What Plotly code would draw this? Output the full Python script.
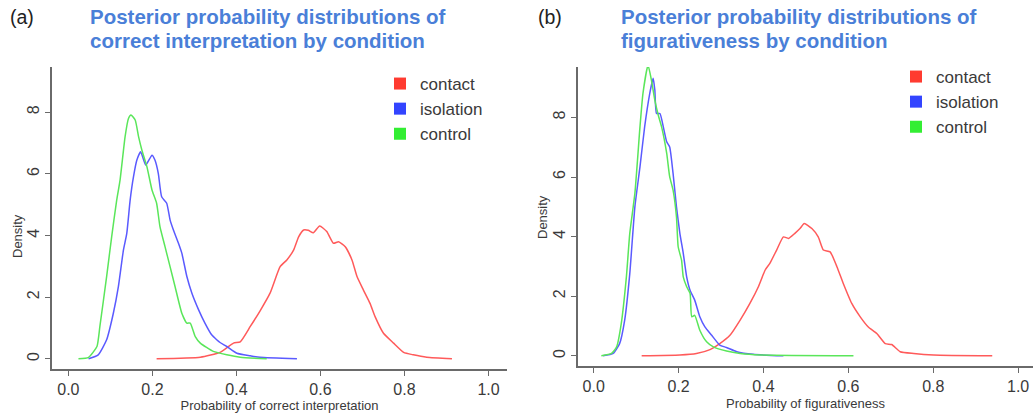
import plotly.graph_objects as go

# ---------------- data ----------------
# Panel (a): probability of correct interpretation
a_control_x = [0.024, 0.048, 0.068, 0.075, 0.091, 0.103, 0.115, 0.123, 0.135, 0.143, 0.149, 0.159, 0.167,
               0.175, 0.187, 0.199, 0.210, 0.218, 0.230, 0.242, 0.254, 0.270, 0.282, 0.290, 0.302, 0.314,
               0.345, 0.377, 0.409, 0.472]
a_control_y = [0.0, 0.05, 0.40, 1.05, 2.67, 3.96, 5.15, 5.80, 7.21, 7.80, 7.91, 7.75, 7.21,
               6.77, 6.23, 5.48, 5.05, 4.29, 3.64, 2.99, 2.34, 1.48, 1.16, 1.16, 0.72, 0.51,
               0.24, 0.13, 0.05, 0.0]

a_isolation_x = [0.048, 0.071, 0.091, 0.107, 0.119, 0.131, 0.139, 0.147, 0.155, 0.163, 0.172, 0.184, 0.199,
                 0.206, 0.214, 0.222, 0.234, 0.242, 0.250, 0.262, 0.270, 0.282, 0.294, 0.310, 0.325, 0.341,
                 0.353, 0.361, 0.377, 0.401, 0.433, 0.456, 0.544]
a_isolation_y = [0.0, 0.13, 0.62, 1.48, 2.34, 3.53, 4.07, 5.15, 5.91, 6.45, 6.72, 6.29, 6.61,
                 6.45, 6.02, 5.26, 5.05, 4.51, 4.18, 3.75, 3.43, 2.67, 2.13, 1.59, 1.16, 0.78,
                 0.62, 0.53, 0.40, 0.18, 0.10, 0.05, 0.0]

a_contact_x = [0.210, 0.314, 0.361, 0.393, 0.409, 0.433, 0.456, 0.480, 0.504, 0.520, 0.536, 0.548, 0.560,
               0.571, 0.583, 0.598, 0.615, 0.631, 0.643, 0.659, 0.675, 0.687, 0.702, 0.718, 0.730, 0.750,
               0.774, 0.798, 0.821, 0.853, 0.913]
a_contact_y = [0.0, 0.05, 0.21, 0.51, 0.55, 1.05, 1.55, 2.13, 2.99, 3.21, 3.53, 3.96, 4.18,
               4.17, 4.09, 4.31, 4.13, 3.75, 3.80, 3.64, 3.21, 2.67, 2.24, 1.80, 1.37, 0.83,
               0.51, 0.21, 0.13, 0.05, 0.0]

# Panel (b): probability of figurativeness
b_control_x = [0.018, 0.042, 0.054, 0.065, 0.077, 0.085, 0.097, 0.109, 0.116, 0.128, 0.136, 0.144, 0.152,
               0.160, 0.172, 0.179, 0.187, 0.195, 0.199, 0.207, 0.211, 0.219, 0.227, 0.231, 0.238, 0.250,
               0.266, 0.282, 0.313, 0.345, 0.392, 0.612]
b_control_y = [0.0, 0.08, 0.30, 1.09, 2.65, 4.11, 5.45, 7.68, 8.80, 9.75, 9.25, 8.58, 8.08,
               7.68, 6.79, 6.01, 5.56, 4.66, 3.66, 3.21, 2.65, 2.32, 2.10, 1.31, 1.36, 0.86,
               0.47, 0.30, 0.16, 0.08, 0.03, 0.0]

b_isolation_x = [0.022, 0.046, 0.061, 0.073, 0.085, 0.097, 0.109, 0.120, 0.132, 0.140, 0.144, 0.148, 0.156,
                 0.164, 0.172, 0.179, 0.187, 0.195, 0.203, 0.211, 0.219, 0.227, 0.238, 0.250, 0.262, 0.278,
                 0.297, 0.313, 0.337, 0.376, 0.447]
b_isolation_y = [0.0, 0.08, 0.41, 1.20, 2.76, 5.00, 6.34, 7.68, 8.80, 9.31, 8.92, 8.13, 8.13,
                 7.68, 7.18, 7.01, 6.12, 5.00, 4.11, 3.44, 2.65, 2.20, 1.87, 1.31, 0.97, 0.69,
                 0.36, 0.28, 0.14, 0.05, 0.0]

b_contact_x = [0.113, 0.203, 0.242, 0.274, 0.297, 0.321, 0.345, 0.368, 0.388, 0.404, 0.415, 0.431, 0.447,
               0.459, 0.474, 0.486, 0.496, 0.514, 0.529, 0.541, 0.557, 0.573, 0.588, 0.608, 0.628, 0.647,
               0.667, 0.687, 0.702, 0.722, 0.754, 0.801, 0.939]
b_contact_y = [0.0, 0.03, 0.08, 0.21, 0.41, 0.69, 1.20, 1.76, 2.32, 2.88, 3.10, 3.55, 3.99,
               3.94, 4.11, 4.27, 4.44, 4.27, 3.99, 3.55, 3.49, 2.99, 2.43, 1.76, 1.31, 0.97,
               0.75, 0.41, 0.38, 0.14, 0.08, 0.03, 0.0]

conditions = ["contact", "isolation", "control"]
x_ticks = [0.0, 0.2, 0.4, 0.6, 0.8, 1.0]
y_ticks = [0, 2, 4, 6, 8]

# ---------------- styling ----------------
line_colors = {"contact": "#ff5a5a", "isolation": "#5a5aff", "control": "#5ae65a"}
key_colors = {"contact": "#ff3b30", "isolation": "#3344ff", "control": "#33ee33"}
FONT = "Liberation Sans, Arial, sans-serif"
AXIS_COL = "#6a6a6a"
TEXT_COL = "#3a3a3a"
TITLE_COL = "#4a7fd8"
W, H = 1036, 416

fig = go.Figure()

panels = [
    ("x", "y", "legend", {"contact": (a_contact_x, a_contact_y),
                          "isolation": (a_isolation_x, a_isolation_y),
                          "control": (a_control_x, a_control_y)}),
    ("x2", "y2", "legend2", {"contact": (b_contact_x, b_contact_y),
                             "isolation": (b_isolation_x, b_isolation_y),
                             "control": (b_control_x, b_control_y)}),
]

for xa, ya, lg, series in panels:
    for cond in conditions:
        xs, ys = series[cond]
        fig.add_trace(go.Scatter(x=xs, y=ys, mode="lines", xaxis=xa, yaxis=ya,
                                 line=dict(color=line_colors[cond], width=1.5, shape="spline", smoothing=0.5),
                                 showlegend=False, hoverinfo="skip"))
    for cond in conditions:
        fig.add_trace(go.Scatter(x=[None], y=[None], mode="markers", xaxis=xa, yaxis=ya,
                                 marker=dict(symbol="square", size=10, color=key_colors[cond]),
                                 name=cond, legend=lg, showlegend=True))

axis_common = dict(showline=True, linecolor=AXIS_COL, linewidth=1.5, ticks="outside",
                   ticklen=5, tickwidth=1.2, tickcolor=AXIS_COL, showgrid=False, zeroline=False,
                   tickfont=dict(family=FONT, size=16, color=TEXT_COL))

fig.update_layout(
    width=W, height=H,
    margin=dict(l=0, r=0, t=0, b=0),
    paper_bgcolor="white", plot_bgcolor="white",
    font=dict(family=FONT, color=TEXT_COL),
    xaxis=dict(domain=[52/W, 507/W], range=[-0.039, 1.044], anchor="y",
               tickvals=x_ticks, tickformat=".1f",
               title=dict(text="Probability of correct interpretation",
                          font=dict(family=FONT, size=13, color=TEXT_COL), standoff=0),
               **axis_common),
    yaxis=dict(domain=[47/H, 349/H], range=[-0.33, 9.47], anchor="x",
               tickvals=y_ticks, tickangle=-90, **axis_common),
    xaxis2=dict(domain=[578/W, 1033/W], range=[-0.037, 1.035], anchor="y2",
                tickvals=x_ticks, tickformat=".1f",
                title=dict(text="Probability of figurativeness",
                           font=dict(family=FONT, size=13, color=TEXT_COL), standoff=5),
                **axis_common),
    yaxis2=dict(domain=[50/H, 349/H], range=[-0.34, 9.69], anchor="x2",
                tickvals=y_ticks, tickangle=-90, **axis_common),
    legend=dict(x=380/W, y=1-66/H, xanchor="left", yanchor="top",
                font=dict(family=FONT, size=17, color=TEXT_COL), bgcolor="rgba(0,0,0,0)",
                itemsizing="constant", tracegroupgap=0),
    legend2=dict(x=896/W, y=1-59/H, xanchor="left", yanchor="top",
                 font=dict(family=FONT, size=17, color=TEXT_COL), bgcolor="rgba(0,0,0,0)",
                 itemsizing="constant", tracegroupgap=0),
)

annotations = [
    ("(a)", 8, 17, 19.5, "#222", False),
    ("Posterior probability distributions of", 88, 17, 20.5, TITLE_COL, True),
    ("correct interpretation by condition", 88, 40, 20.5, TITLE_COL, True),
    ("(b)", 536, 17, 19.5, "#222", False),
    ("Posterior probability distributions of", 619, 17, 20.5, TITLE_COL, True),
    ("figurativeness by condition", 619, 40, 20.5, TITLE_COL, True),
]
for text, px, py, size, col, bold in annotations:
    fig.add_annotation(text=f"<b>{text}</b>" if bold else text, xref="paper", yref="paper",
                       x=px/W, y=1-py/H, xanchor="left", yanchor="middle",
                       align="left", showarrow=False,
                       font=dict(family=FONT, size=size, color=col))

# y-axis titles
for px, py in [(17, 236), (542, 217)]:
    fig.add_annotation(text="Density", xref="paper", yref="paper", x=px/W, y=1-py/H,
                       xanchor="center", yanchor="middle", textangle=-90, showarrow=False,
                       font=dict(family=FONT, size=13, color=TEXT_COL))

fig.write_html("out.html", config={"displayModeBar": False},
               post_script="document.body.style.margin='0';document.body.style.overflow='hidden';")
